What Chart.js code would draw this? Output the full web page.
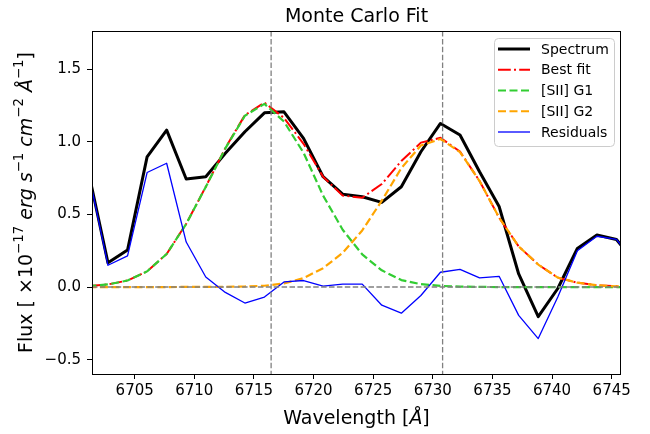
<!DOCTYPE html>
<html>
<head>
<meta charset="utf-8">
<script src="https://cdn.jsdelivr.net/npm/chart.js@4.4.0/dist/chart.umd.min.js"></script>
<style>
  html, body { margin: 0; padding: 0; background: #fff; }
  #wrap { width: 650px; height: 434px; }
</style>
</head>
<body>
<div id="wrap"><canvas id="fitChart" width="650" height="434"></canvas></div>
<script>
// wavelength grid of the spectrum (Angstrom)
const wavelength = [6701.12, 6702.76, 6704.40, 6706.04, 6707.68, 6709.32, 6710.96, 6712.60,
  6714.24, 6715.88, 6717.52, 6719.16, 6720.80, 6722.44, 6724.08, 6725.72, 6727.36, 6729.00,
  6730.64, 6732.28, 6733.92, 6735.56, 6737.20, 6738.84, 6740.48, 6742.12, 6743.76, 6745.40, 6747.04];

const spectrum = [0.795, 0.167, 0.255, 0.897, 1.081, 0.744, 0.760, 0.921, 1.070, 1.200, 1.207,
  1.024, 0.760, 0.640, 0.622, 0.583, 0.691, 0.932, 1.127, 1.047, 0.794, 0.555, 0.090, -0.204,
  -0.010, 0.266, 0.358, 0.328, 0.160];

const bestFit = [0.006, 0.018, 0.045, 0.108, 0.228, 0.436, 0.691, 0.957, 1.184, 1.271, 1.165,
  0.987, 0.760, 0.630, 0.615, 0.710, 0.868, 0.995, 1.028, 0.933, 0.731, 0.478, 0.280, 0.155,
  0.065, 0.030, 0.012, 0.005, 0.002];

const siiG1 = [0.006, 0.018, 0.045, 0.108, 0.228, 0.435, 0.690, 0.955, 1.180, 1.262, 1.140,
  0.925, 0.630, 0.395, 0.225, 0.115, 0.048, 0.020, 0.008, 0.003, 0.001, 0, 0, 0, 0, 0, 0, 0, 0];

const siiG2 = [0, 0, 0, 0, 0, 0.001, 0.001, 0.002, 0.004, 0.009, 0.025, 0.062, 0.130, 0.235,
  0.390, 0.595, 0.820, 0.975, 1.020, 0.930, 0.730, 0.478, 0.280, 0.155, 0.065, 0.030, 0.012,
  0.005, 0.002];

const residuals = [0.789, 0.150, 0.215, 0.789, 0.853, 0.310, 0.069, -0.037, -0.110, -0.069,
  0.035, 0.045, 0.007, 0.020, 0.020, -0.125, -0.180, -0.058, 0.102, 0.122, 0.063, 0.074,
  -0.195, -0.355, -0.068, 0.250, 0.350, 0.328, 0.158];

// rest wavelengths of the [SII] doublet
const lineCentres = [6716.44, 6730.82];

const xTicks = [6705, 6710, 6715, 6720, 6725, 6730, 6735, 6740, 6745];
const yTicks = [-0.5, 0.0, 0.5, 1.0, 1.5];

const FAMILY = '"DejaVu Sans", sans-serif';
Chart.defaults.font.family = FAMILY;
Chart.defaults.color = '#000';

const pts = ys => wavelength.map((x, i) => ({ x: x, y: ys[i] }));

const common = { fill: false, pointRadius: 0, tension: 0, borderJoinStyle: 'round', clip: 0 };

// superscripts and italics for the axis labels
function drawRich(ctx, parts, size) {
  const fontFor = p => (p.it ? 'italic ' : '') + (p.sup ? size * 0.7 : size) + 'px ' + FAMILY;
  let total = 0;
  parts.forEach(p => { ctx.font = fontFor(p); p.w = ctx.measureText(p.t).width; total += p.w; });
  let x = -total / 2;
  ctx.textAlign = 'left';
  ctx.textBaseline = 'alphabetic';
  parts.forEach(p => {
    ctx.font = fontFor(p);
    ctx.fillText(p.t, x, p.sup ? -size * 0.45 : 0);
    x += p.w;
  });
}

const decorations = {
  id: 'decorations',
  afterDatasetsDraw(chart) {
    const { ctx, chartArea: a, scales: { x, y } } = chart;

    // reference lines
    ctx.save();
    ctx.beginPath();
    ctx.rect(a.left, a.top, a.right - a.left, a.bottom - a.top);
    ctx.clip();
    ctx.strokeStyle = '#808080';
    ctx.lineWidth = 1.5;
    ctx.setLineDash([5.5, 2.4]);
    const y0 = y.getPixelForValue(0);
    ctx.beginPath();
    ctx.moveTo(a.left, y0);
    ctx.lineTo(a.right, y0);
    ctx.stroke();
    ctx.lineWidth = 1.3;
    lineCentres.forEach(c => {
      const px = x.getPixelForValue(c);
      ctx.beginPath();
      ctx.moveTo(px, a.top);
      ctx.lineTo(px, a.bottom);
      ctx.stroke();
    });
    ctx.restore();

    // axes frame
    ctx.save();
    ctx.strokeStyle = '#000';
    ctx.lineWidth = 1;
    ctx.strokeRect(Math.round(a.left) + 0.5, Math.round(a.top) + 0.5,
      Math.round(a.right - a.left) - 1, Math.round(a.bottom - a.top));
    ctx.restore();

    // legend
    const sets = chart.data.datasets;
    const bx = a.right - 127, by = a.top + 7, bw = 120, bh = 108;
    ctx.save();
    ctx.beginPath();
    ctx.roundRect(bx + 0.5, by + 0.5, bw, bh, 4);
    ctx.fillStyle = 'rgba(255,255,255,0.8)';
    ctx.fill();
    ctx.strokeStyle = '#cccccc';
    ctx.lineWidth = 1;
    ctx.stroke();
    sets.forEach((ds, i) => {
      const ry = by + 11 + i * 20.75;
      ctx.strokeStyle = ds.borderColor;
      ctx.lineWidth = ds.borderWidth;
      ctx.setLineDash(ds.borderDash || []);
      ctx.beginPath();
      ctx.moveTo(bx + 4, ry);
      ctx.lineTo(bx + 36, ry);
      ctx.stroke();
      ctx.setLineDash([]);
      ctx.fillStyle = '#000';
      ctx.font = '14px ' + FAMILY;
      ctx.textAlign = 'left';
      ctx.textBaseline = 'middle';
      ctx.fillText(ds.label, bx + 47, ry + 1);
    });
    ctx.restore();
  },
  afterDraw(chart) {
    const { ctx, chartArea: a } = chart;
    const cx = (a.left + a.right) / 2;
    ctx.save();
    ctx.fillStyle = '#000';
    ctx.font = '19px ' + FAMILY;
    ctx.textAlign = 'center';
    ctx.textBaseline = 'alphabetic';
    ctx.fillText('Monte Carlo Fit', cx, 22);

    ctx.translate(cx, 424);
    drawRich(ctx, [{ t: 'Wavelength [' }, { t: 'Å', it: true }, { t: ']' }], 19);
    ctx.restore();

    ctx.save();
    ctx.fillStyle = '#000';
    ctx.translate(32, (a.top + a.bottom) / 2);
    ctx.rotate(-Math.PI / 2);
    drawRich(ctx, [
      { t: 'Flux [ ×10' }, { t: '−17', sup: true }, { t: ' ' },
      { t: 'erg', it: true }, { t: ' ' },
      { t: 's', it: true }, { t: '−1', sup: true }, { t: ' ' },
      { t: 'cm', it: true }, { t: '−2', sup: true }, { t: ' ' },
      { t: 'Å', it: true }, { t: '−1', sup: true }, { t: ']' }
    ], 19);
    ctx.restore();
  }
};

new Chart(document.getElementById('fitChart').getContext('2d'), {
  type: 'line',
  data: {
    datasets: [
      { ...common, label: 'Spectrum', data: pts(spectrum), borderColor: '#000000', borderWidth: 3, order: 5 },
      { ...common, label: 'Best fit', data: pts(bestFit), borderColor: '#ff0000', borderWidth: 2,
        borderDash: [12.8, 3.2, 2, 3.2], order: 4 },
      { ...common, label: '[SII] G1', data: pts(siiG1), borderColor: '#32cd32', borderWidth: 2.2,
        borderDash: [8, 3.5], order: 3 },
      { ...common, label: '[SII] G2', data: pts(siiG2), borderColor: '#ffa500', borderWidth: 2.2,
        borderDash: [8, 3.5], order: 2 },
      { ...common, label: 'Residuals', data: pts(residuals), borderColor: '#0000ff', borderWidth: 1.3, order: 1 }
    ]
  },
  options: {
    responsive: false,
    animation: false,
    devicePixelRatio: 1,
    layout: { padding: { top: 31, right: 29, bottom: 0, left: 0 } },
    plugins: {
      legend: { display: false },
      title: { display: false },
      tooltip: { enabled: false }
    },
    scales: {
      x: {
        type: 'linear',
        min: 6701.42,
        max: 6745.78,
        afterBuildTicks: s => { s.ticks = xTicks.map(v => ({ value: v })); },
        afterFit: s => { s.height = 60; },
        border: { display: false },
        grid: { drawOnChartArea: false, drawTicks: true, tickLength: 5, color: '#000', lineWidth: 1 },
        ticks: { font: { size: 15 }, color: '#000', padding: 3, maxRotation: 0, autoSkip: false,
          callback: v => String(v) }
      },
      y: {
        type: 'linear',
        min: -0.599,
        max: 1.764,
        afterBuildTicks: s => { s.ticks = yTicks.map(v => ({ value: v })); },
        afterFit: s => { s.width = 92; },
        border: { display: false },
        grid: { drawOnChartArea: false, drawTicks: true, tickLength: 5, color: '#000', lineWidth: 1 },
        ticks: { font: { size: 15 }, color: '#000', padding: 6, autoSkip: false,
          callback: v => (v < 0 ? '−' : '') + Math.abs(v).toFixed(1) }
      }
    }
  },
  plugins: [decorations]
});
</script>
</body>
</html>
